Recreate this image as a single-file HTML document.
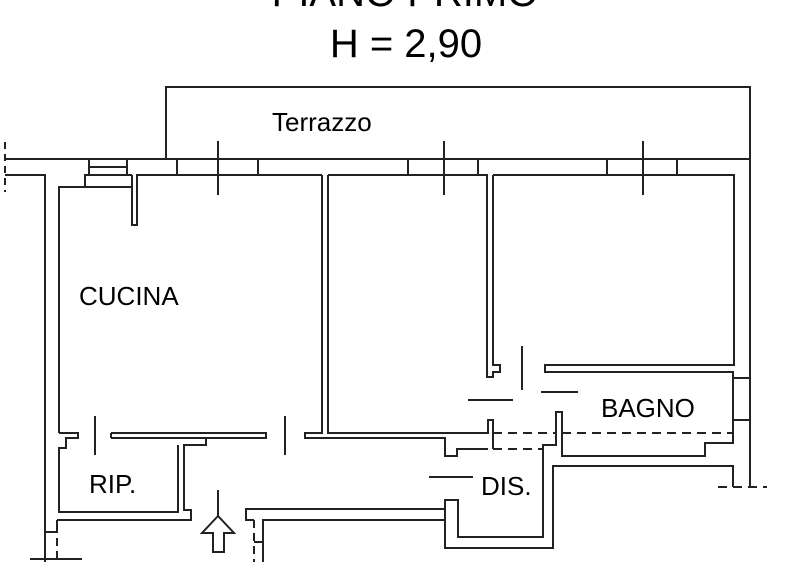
<!DOCTYPE html>
<html><head><meta charset="utf-8"><style>
html,body{margin:0;padding:0;background:#fff;width:800px;height:562px;overflow:hidden}
svg{display:block}
text{font-family:"Liberation Sans",Arial,sans-serif;fill:#000}
</style></head><body>
<svg width="800" height="562" viewBox="0 0 800 562" xmlns="http://www.w3.org/2000/svg">
<g fill="none" stroke="#222" stroke-width="2">
<polyline points="166,159 166,87 750,87 750,487"/>
<line x1="5" y1="159" x2="750" y2="159"/>
<line x1="5" y1="142" x2="5" y2="192" stroke-dasharray="7,5"/>
<polyline points="5,175 45,175 45,562"/>
<line x1="57" y1="525" x2="57" y2="562" stroke-dasharray="8,5"/>
<polyline points="45,532 57,532 57,520"/>
<line x1="30" y1="559" x2="82" y2="559"/>
<polyline points="89,159 89,175"/><polyline points="127,159 127,175"/>
<line x1="89" y1="167" x2="127" y2="167"/>
<polyline points="59,433 59,187 85,187 85,175 132,175"/>
<line x1="85" y1="187" x2="132" y2="187"/>
<polyline points="132,175 132,225 137,225 137,175 322,175"/>
<line x1="177" y1="159" x2="177" y2="175"/><line x1="258" y1="159" x2="258" y2="175"/>
<line x1="218" y1="141" x2="218" y2="195"/>
<line x1="408" y1="159" x2="408" y2="175"/><line x1="478" y1="159" x2="478" y2="175"/>
<line x1="444" y1="141" x2="444" y2="195"/>
<line x1="607" y1="159" x2="607" y2="175"/><line x1="677" y1="159" x2="677" y2="175"/>
<line x1="643" y1="141" x2="643" y2="195"/>
<polyline points="322,175 322,433 305,433 305,438 445,438 445,456 457,456 457,449 488,449"/>
<polyline points="328,175 487,175 487,377 493,377 493,372 500,372 500,365 493,365 493,175"/>
<polyline points="328,175 328,433 488,433 488,420 493,420 493,449"/>
<polyline points="493,175 734,175 734,365 545,365 545,372 733,372 733,443 705,443 705,456 562,456 562,412 556,412 556,445 543,445 543,537 458,537 458,500 445,500 445,548 553,548 553,466 733,466 733,487"/>
<line x1="493" y1="433" x2="556" y2="433" stroke-dasharray="9,6"/>
<line x1="562" y1="433" x2="733" y2="433" stroke-dasharray="9,6"/>
<line x1="493" y1="449" x2="543" y2="449" stroke-dasharray="9,6"/>
<line x1="718" y1="487" x2="767" y2="487" stroke-dasharray="9,6"/>
<rect x="733" y="378" width="17" height="42"/>
<line x1="522" y1="346" x2="522" y2="390"/>
<line x1="541" y1="392" x2="578" y2="392"/>
<line x1="468" y1="400" x2="513" y2="400"/>
<line x1="429" y1="477" x2="473" y2="477"/>
<polyline points="59,433 78,433 78,438 66,438 66,448 59,448 59,512 178,512 178,445"/>
<polyline points="111,433 266,433 266,438 206,438 206,445 184,445 184,510 191,510 191,520 57,520"/>
<line x1="111" y1="433" x2="111" y2="438"/><line x1="111" y1="438" x2="206" y2="438"/>
<line x1="95" y1="416" x2="95" y2="455"/>
<line x1="285" y1="416" x2="285" y2="455"/>
<line x1="218" y1="490" x2="218" y2="516"/>
<polygon points="218,516 202,533 213,533 213,552 224,552 224,533 234,533"/>
<polyline points="445,509 246,509 246,520 254,520"/>
<polyline points="445,520 263,520 263,562"/>
<line x1="254" y1="520" x2="254" y2="562" stroke-dasharray="8,5"/>
<line x1="254" y1="542" x2="263" y2="542"/>
</g>
<text x="405" y="6" font-size="40" text-anchor="middle">PIANO PRIMO</text>
<text x="406" y="57" font-size="40" text-anchor="middle">H = 2,90</text>
<text x="272" y="131" font-size="26">Terrazzo</text>
<text x="79" y="305" font-size="26">CUCINA</text>
<text x="89" y="493" font-size="26">RIP.</text>
<text x="601" y="417" font-size="26">BAGNO</text>
<text x="481" y="495" font-size="26">DIS.</text>
</svg>
</body></html>
